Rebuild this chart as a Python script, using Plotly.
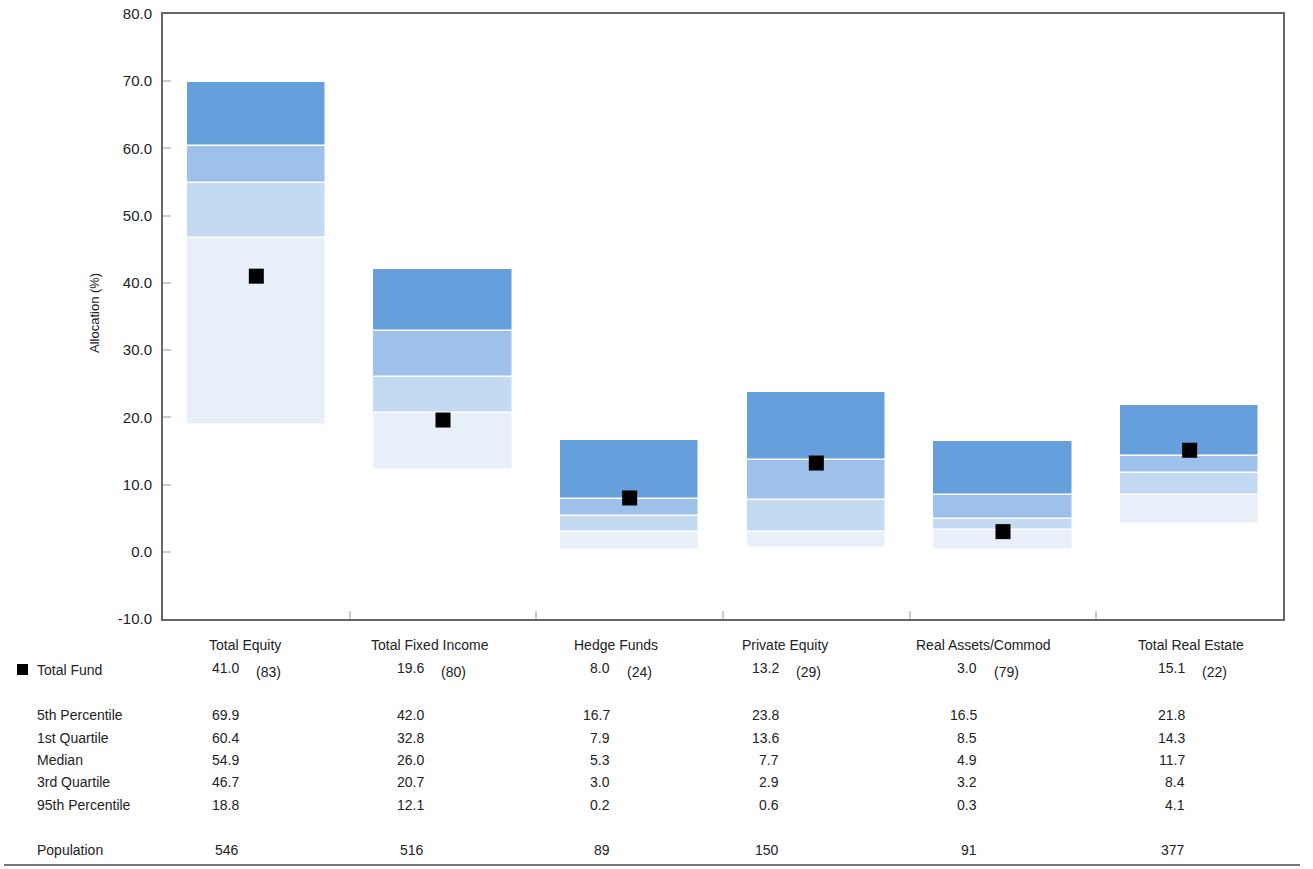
import plotly.graph_objects as go

# ---------------- data ----------------
categories = ["Total Equity", "Total Fixed Income", "Hedge Funds",
              "Private Equity", "Real Assets/Commod", "Total Real Estate"]
total_fund = [41.0, 19.6, 8.0, 13.2, 3.0, 15.1]
total_fund_rank = [83, 80, 24, 29, 79, 22]
p5 = [69.9, 42.0, 16.7, 23.8, 16.5, 21.8]
q1 = [60.4, 32.8, 7.9, 13.6, 8.5, 14.3]
median = [54.9, 26.0, 5.3, 7.7, 4.9, 11.7]
q3 = [46.7, 20.7, 3.0, 2.9, 3.2, 8.4]
p95 = [18.8, 12.1, 0.2, 0.6, 0.3, 4.1]
population = [546, 516, 89, 150, 91, 377]
row_labels = ["5th Percentile", "1st Quartile", "Median", "3rd Quartile", "95th Percentile"]
y_ticks = [-10, 0, 10, 20, 30, 40, 50, 60, 70, 80]
y_tick_labels = [f"{v:.1f}" for v in y_ticks]

# ---------------- layout constants ----------------
W, H = 1313, 869
PL, PR, PT, PB = 163, 1283, 14, 619
FONT = "Liberation Sans, Arial, sans-serif"
TXT = "#222222"
FS = 14
colors = ["#E8EFF9", "#C4D9F2", "#9DC1EA", "#659FDC"]  # lightest (bottom) -> darkest (top)
col_shift = [-12, -14, -15, -32, -21, 0]


def py(p):
    return (PB - p) / (PB - PT)


def px(p):
    return (p - PL) / (PR - PL)


xs = list(range(len(categories)))
fig = go.Figure()

segments = [(p95, q3), (q3, median), (median, q1), (q1, p5)]
for (lo, hi), c in zip(segments, colors):
    fig.add_trace(go.Bar(
        x=xs, base=lo, y=[h - l for l, h in zip(lo, hi)],
        width=0.745, marker=dict(color=c, line=dict(color="white", width=1.5)),
        showlegend=False, hoverinfo="skip"))

fig.add_trace(go.Scatter(
    x=xs, y=total_fund, mode="markers",
    marker=dict(symbol="square", size=15, color="black", line=dict(width=0)),
    showlegend=False, hoverinfo="skip"))

ann = []
# axis title
ann.append(dict(text="Allocation (%)", x=px(95), y=py(313), xref="paper", yref="paper",
                textangle=-90, showarrow=False, font=dict(family=FONT, size=13, color=TXT),
                xanchor="center", yanchor="middle"))

row_y = {"cat": 645, "tf": 668, "rows": [715, 738, 760, 782, 805], "pop": 850}


def label(text, yy):
    return dict(text=text, x=px(35), y=py(yy), xref="paper", yref="paper",
                showarrow=False, xanchor="left", yanchor="middle",
                font=dict(family=FONT, size=FS, color=TXT))


ann.append(label("Total Fund", 670))
for lab, yy in zip(row_labels, row_y["rows"]):
    ann.append(label(lab, yy))
ann.append(label("Population", row_y["pop"]))

for i, cat in enumerate(categories):
    s = col_shift[i]
    ann.append(dict(text=cat, x=i, xref="x", y=py(row_y["cat"]), yref="paper",
                    xshift=s + 1, showarrow=False, xanchor="center", yanchor="middle",
                    font=dict(family=FONT, size=FS, color=TXT)))
    ann.append(dict(text=f"{total_fund[i]:.1f}", x=i, xref="x", y=py(row_y["tf"]), yref="paper",
                    xshift=s - 3, showarrow=False, xanchor="right", yanchor="middle",
                    font=dict(family=FONT, size=FS, color=TXT)))
    ann.append(dict(text=f"({total_fund_rank[i]})", x=i, xref="x", y=py(row_y["tf"] + 4), yref="paper",
                    xshift=s + 10, showarrow=False, xanchor="left", yanchor="middle",
                    font=dict(family=FONT, size=FS, color=TXT)))
    for arr, yy in zip([p5, q1, median, q3, p95], row_y["rows"]):
        ann.append(dict(text=f"{arr[i]:.1f}", x=i, xref="x", y=py(yy), yref="paper",
                        xshift=s - 3, showarrow=False, xanchor="right", yanchor="middle",
                        font=dict(family=FONT, size=FS, color=TXT)))
    ann.append(dict(text=f"{population[i]}", x=i, xref="x", y=py(row_y["pop"]), yref="paper",
                    xshift=s - 3, showarrow=False, xanchor="right", yanchor="middle",
                    font=dict(family=FONT, size=FS, color=TXT)))

shapes = [
    dict(type="rect", xref="paper", yref="paper", x0=px(17), x1=px(28), y0=py(675), y1=py(664),
         fillcolor="black", line=dict(width=0)),
    dict(type="line", xref="paper", yref="paper", x0=px(4), x1=px(1300), y0=py(865), y1=py(865),
         line=dict(color="#777777", width=2)),
]

fig.update_layout(
    width=W, height=H,
    margin=dict(l=PL, r=W - PR, t=PT, b=H - PB, autoexpand=False),
    paper_bgcolor="white", plot_bgcolor="white",
    barmode="overlay", bargap=0,
    annotations=ann, shapes=shapes,
    font=dict(family=FONT, color=TXT),
)
fig.update_xaxes(range=[-0.5, len(categories) - 0.5],
                 tickvals=[i + 0.5 for i in range(len(categories) - 1)],
                 showticklabels=False, ticks="inside", ticklen=8, tickcolor="#cccccc", tickwidth=1.5,
                 showgrid=False, zeroline=False, automargin=False,
                 showline=True, mirror=True, linecolor="#666666", linewidth=2)
fig.update_yaxes(range=[-10, 80], tickvals=y_ticks, ticktext=y_tick_labels,
                 ticks="inside", ticklen=8, tickcolor="#cccccc", tickwidth=1.5,
                 ticklabelstandoff=6, automargin=False,
                 tickfont=dict(family=FONT, size=15, color=TXT),
                 showgrid=False, zeroline=False,
                 showline=True, mirror=True, linecolor="#666666", linewidth=2)

fig.write_html("out.html")
